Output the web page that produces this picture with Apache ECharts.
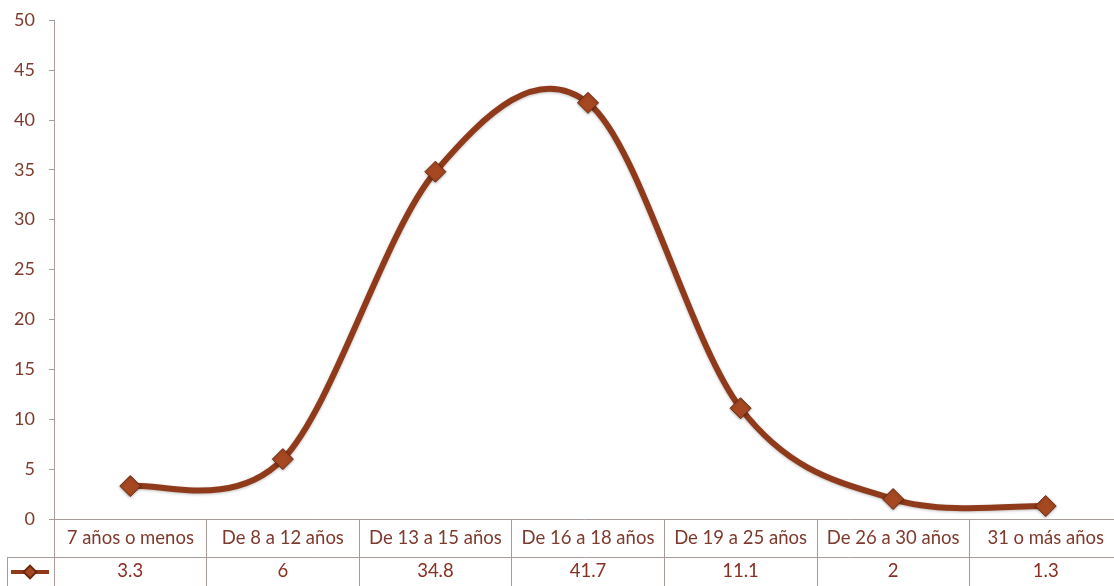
<!DOCTYPE html>
<html><head><meta charset="utf-8">
<script src="https://cdn.jsdelivr.net/npm/echarts@6/dist/echarts.min.js"></script>
<style>html,body{margin:0;padding:0;background:#fff}#c{width:1114px;height:586px}</style>
</head><body><div id="c"></div>
<script>
const categories = ['7 años o menos','De 8 a 12 años','De 13 a 15 años','De 16 a 18 años','De 19 a 25 años','De 26 a 30 años','31 o más años'];
const values = [3.3, 6, 34.8, 41.7, 11.1, 2, 1.3];
const yTicks = {min: 0, max: 50, interval: 5};

const textColor = '#7E3A2C';
const gridColor = '#A89C98';
const lineColor = '#8E3A1B';
const font = 'Lato, "Open Sans", sans-serif';

// Excel-style smoothed segment (Catmull-Rom -> Bezier), using the chart's own scale via api.coord
function renderSegment(params, api) {
  const i = params.dataIndex;
  const n = values.length;
  if (i >= n - 1) return null;
  const P = k => api.coord([Math.max(0, Math.min(n - 1, k)), values[Math.max(0, Math.min(n - 1, k))]]);
  const p0 = P(i - 1), p1 = P(i), p2 = P(i + 1), p3 = P(i + 2);
  return {
    type: 'bezierCurve',
    shape: {
      x1: p1[0], y1: p1[1], x2: p2[0], y2: p2[1],
      cpx1: p1[0] + (p2[0] - p0[0]) / 6, cpy1: p1[1] + (p2[1] - p0[1]) / 6,
      cpx2: p2[0] - (p3[0] - p1[0]) / 6, cpy2: p2[1] - (p3[1] - p1[1]) / 6
    },
    style: {stroke: lineColor, lineWidth: 6, fill: null, lineCap: 'round',
            shadowColor: 'rgba(0,0,0,0.25)', shadowBlur: 3, shadowOffsetY: 1}
  };
}

const chart = echarts.init(document.getElementById('c'));
chart.setOption({
  animation: false,
  grid: {left: 54, width: 1068, top: 20, height: 499, containLabel: false, outerBoundsMode: 'none'},
  legend: {
    left: 9, top: 564, itemWidth: 38, itemHeight: 16, padding: 0,
    formatter: () => '', data: ['Serie'],
    lineStyle: {color: lineColor, width: 4, opacity: 1}
  },
  xAxis: [{
    type: 'category', data: categories, position: 'bottom', boundaryGap: true,
    axisLine: {show: true, lineStyle: {color: gridColor, width: 1}},
    axisTick: {show: true, length: 38, interval: 0, lineStyle: {color: gridColor}},
    axisLabel: {color: textColor, fontSize: 18.5, fontFamily: font, margin: 10, interval: 0}
  }, {
    type: 'category', data: values.map(v => String(v)), position: 'bottom', offset: 38, boundaryGap: true,
    axisLine: {show: true, lineStyle: {color: gridColor, width: 1}},
    axisTick: {show: true, length: 32, interval: 0, lineStyle: {color: gridColor}},
    axisLabel: {color: '#8A2E22', fontSize: 18.5, fontFamily: font, margin: 5, interval: 0}
  }],
  yAxis: {
    type: 'value', min: yTicks.min, max: yTicks.max, interval: yTicks.interval,
    axisLine: {show: true, lineStyle: {color: gridColor}},
    axisTick: {show: true, length: 5, lineStyle: {color: gridColor}},
    splitLine: {show: false},
    axisLabel: {color: textColor, fontSize: 18, fontFamily: font, margin: 19}
  },
  graphic: [
    {type: 'line', shape: {x1: 7, y1: 557.5, x2: 54, y2: 557.5}, style: {stroke: gridColor, lineWidth: 1}},
    {type: 'line', shape: {x1: 7.5, y1: 557, x2: 7.5, y2: 586}, style: {stroke: gridColor, lineWidth: 1}}
  ],
  series: [{
    type: 'custom', xAxisIndex: 0, z: 2,
    data: values.map((v, i) => [i, v]),
    renderItem: renderSegment
  }, {
    name: 'Serie', type: 'line', data: values, xAxisIndex: 0, z: 3,
    symbol: 'diamond', symbolSize: 21,
    lineStyle: {width: 0},
    itemStyle: {color: '#A64822', borderColor: '#6A2810', borderWidth: 1, shadowColor: 'rgba(0,0,0,0.3)', shadowBlur: 3, shadowOffsetY: 1}
  }]
});
</script>
</body></html>
